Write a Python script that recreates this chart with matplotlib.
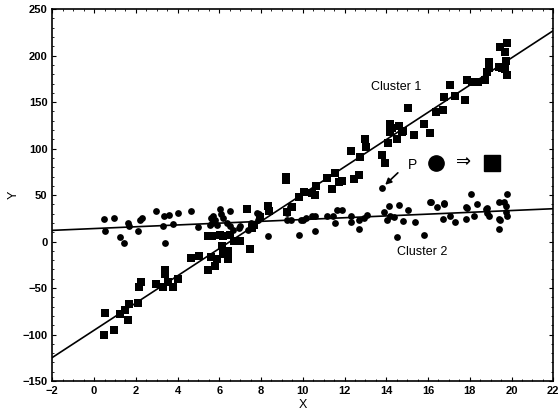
import matplotlib.pyplot as plt
import numpy as np

plt.rcParams['font.family'] = ['Liberation Sans', 'DejaVu Sans']

# Cluster 1 (squares)
sq_x = [0.46, 0.54, 0.95, 1.25, 1.46, 1.62, 1.65, 2.10, 2.15, 2.26, 2.95, 3.30, 3.39, 3.42,
        3.55, 3.76, 4.03, 4.64, 5.03, 5.47, 5.58, 5.47, 5.67, 5.80, 5.90, 6.12, 6.20, 6.42,
        6.44, 6.20, 6.52, 6.68, 7.00, 7.33, 7.48, 7.56, 7.64, 7.95, 8.34, 8.37, 6.04, 6.28,
        9.18, 9.18, 9.22, 9.49, 9.81, 10.05, 10.46, 10.57, 10.62, 11.18, 11.42, 11.53, 11.74,
        11.90, 12.30, 12.43, 12.70, 12.74, 12.98, 13.03, 13.78, 13.94, 14.10, 14.18, 14.20,
        14.27, 14.52, 14.63, 14.75, 14.80, 15.04, 15.35, 15.79, 16.08, 16.40, 16.70, 16.77,
        17.04, 17.30, 17.77, 17.85, 18.10, 18.40, 18.73, 18.80, 18.90, 18.90, 19.42, 19.45,
        19.55, 19.70, 19.70, 19.74, 19.77, 19.77]
sq_y = [-100.7, -76.4, -95.0, -78.0, -74.0, -84.0, -67.5, -66.5, -48.6, -44.0, -46.0, -48.6,
        -35.0, -31.0, -44.0, -48.6, -40.7, -18.2, -15.7, -31.0, -17.0, 5.7, 5.7, -26.5, -19.0,
        -5.0, -13.6, -10.0, -19.0, 5.7, 7.5, 0.4, 0.4, 35.4, -7.8, 14.5, 18.0, 26.0, 37.8,
        33.0, 7.5, -12.0,
        66.5, 70.0, 31.4, 37.0, 48.0, 53.0, 52.0, 50.0, 60.0, 68.0, 56.5, 73.6, 64.6,
        65.0, 97.5, 67.5, 71.8, 91.4, 110.4, 102.0, 93.0, 85.0, 105.8, 126.5, 118.0,
        122.0, 110.0, 124.0, 118.0, 119.0, 143.3, 114.7, 127.0, 116.5, 139.7, 141.5, 155.7,
        168.0, 156.5, 152.0, 173.6, 172.0, 171.8, 173.6, 182.5, 193.0, 187.0, 188.0, 209.0,
        187.0, 204.0, 186.0, 194.0, 213.6, 179.0]

# Cluster 2 (circles)
ci_x = [0.46, 0.54, 0.95, 1.25, 1.43, 1.62, 1.65, 2.10, 2.20, 2.28, 2.95, 3.35, 3.30, 3.42,
        3.58, 3.76, 4.03, 4.64, 4.99, 5.60, 5.66, 5.80, 6.04, 6.07, 6.20, 6.35, 6.52, 6.52,
        6.65, 6.95, 7.37, 7.50, 7.85, 7.88, 8.34, 5.72, 5.56, 5.88, 7.00, 7.80,
        9.22, 9.41, 9.25, 9.45, 9.81, 10.02, 10.42, 10.58, 10.59, 11.18, 11.43, 11.53, 11.66,
        11.90, 12.30, 12.30, 12.70, 12.70, 12.92, 13.06, 13.90, 14.02, 14.12, 14.20, 14.36,
        14.50, 14.63, 14.79, 15.03, 15.39, 15.79, 16.08, 16.45, 16.72, 16.77, 17.04, 17.30,
        17.81, 17.81, 18.20, 18.36, 18.76, 18.84, 18.92, 19.42, 19.42, 19.42, 19.74, 19.74,
        19.80, 18.05, 19.77, 16.12, 16.75, 17.88, 18.80, 19.66, 19.45, 9.90, 10.14, 13.78]
ci_y = [24.3, 11.0, 25.4, 5.0, -1.0, 20.0, 17.0, 11.0, 23.6, 25.0, 33.0, 28.0, 17.0, -1.0,
        29.0, 19.0, 31.0, 32.5, 15.7, 25.4, 20.0, 23.0, 35.0, 30.0, 25.0, 20.0, 32.5, 17.0,
        12.0, 15.0, 12.0, 20.0, 23.0, 30.0, 5.7, 27.0, 18.0, 18.0, 16.4, 30.7,
        30.7, 37.0, 23.6, 23.0, 7.5, 23.6, 28.0, 27.0, 11.8, 27.0, 28.0, 20.0, 34.0,
        34.0, 28.0, 21.0, 23.6, 13.0, 25.0, 29.0, 31.4, 23.0, 38.6, 27.0, 26.0,
        5.0, 39.6, 22.0, 34.3, 21.0, 7.5, 43.0, 37.0, 24.6, 40.7, 27.0, 21.0,
        37.0, 24.0, 27.0, 40.4, 35.0, 31.0, 27.0, 43.0, 24.0, 14.0, 38.0, 32.0,
        28.0, 51.4, 51.0, 43.0, 42.0, 36.0, 36.0, 43.0, 23.0, 23.6, 25.0, 57.5]

# fitted lines: [slope, intercept]
fit1 = [14.65, -95.4]
fit2 = [0.97, 14.0]

fig = plt.figure(figsize=(5.59, 4.17), dpi=100)
ax = fig.add_axes([0.0936, 0.0863, 0.8962, 0.8917])

ax.scatter(sq_x, sq_y, marker='s', s=30, color='black', linewidths=0)
ax.scatter(ci_x, ci_y, marker='o', s=24, color='black', linewidths=0)

xl = np.array([-2, 22])
ax.plot(xl, fit1[0] * xl + fit1[1], color='black', lw=1.2)
ax.plot(xl, fit2[0] * xl + fit2[1], color='black', lw=1.2)

# arrow towards point P
ax.annotate('', xy=(13.85, 59), xytext=(14.65, 76),
            arrowprops=dict(arrowstyle='-|>', color='black', lw=1.2, mutation_scale=9))

ax.text(15.25, 82, 'P', fontsize=10, ha='center', va='center')
ax.plot([16.4], [85], marker='o', ms=11, color='black')
ax.text(17.7, 85, '⇒', fontsize=13, ha='center', va='center', family=['DejaVu Sans'])
ax.plot([19.05], [85], marker='s', ms=11, color='black')

ax.text(14.45, 166, 'Cluster 1', fontsize=9, ha='center', va='center')
ax.text(15.7, -11, 'Cluster 2', fontsize=9, ha='center', va='center')

ax.set_xlim(-2, 22)
ax.set_ylim(-150, 250)
ax.set_xticks(np.arange(-2, 23, 2))
ax.set_yticks(np.arange(-150, 251, 50))
ax.minorticks_on()
ax.tick_params(which='both', direction='in', top=True, right=True, labelsize=8)
ax.tick_params(which='major', length=3)
ax.tick_params(which='minor', length=1.5)
for lab in ax.get_xticklabels() + ax.get_yticklabels():
    lab.set_fontweight('bold')
for s in ax.spines.values():
    s.set_linewidth(1.2)

ax.set_xlabel('X', fontsize=9, labelpad=2)
ax.set_ylabel('Y', fontsize=9, labelpad=2)

fig.savefig('out.png', dpi=100)
